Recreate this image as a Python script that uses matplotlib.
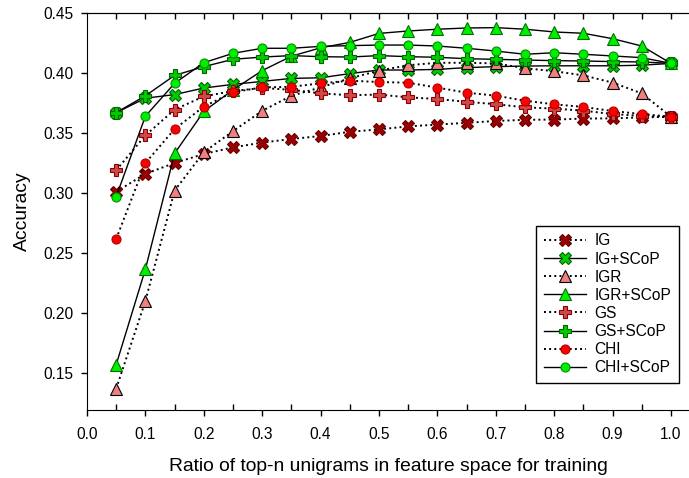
import matplotlib
matplotlib.use('Agg')
import matplotlib.pyplot as plt
import numpy as np

plt.rcParams['font.family'] = ['Liberation Sans', 'DejaVu Sans']
plt.rcParams['font.size'] = 11.2

# ratio of top-n unigrams
ratio = [0.05, 0.10, 0.15, 0.20, 0.25, 0.30, 0.35, 0.40, 0.45, 0.50,
         0.55, 0.60, 0.65, 0.70, 0.75, 0.80, 0.85, 0.90, 0.95, 1.00]

ig = [0.301, 0.316, 0.325, 0.3325, 0.338, 0.342, 0.345, 0.3475, 0.351, 0.353,
      0.3555, 0.357, 0.3585, 0.360, 0.361, 0.3612, 0.362, 0.3622, 0.363, 0.3635]
ig_scop = [0.367, 0.379, 0.382, 0.3875, 0.3905, 0.393, 0.3955, 0.396, 0.3995, 0.4025,
           0.4025, 0.403, 0.4045, 0.4053, 0.4058, 0.406, 0.406, 0.406, 0.4065, 0.408]
igr = [0.137, 0.210, 0.302, 0.334, 0.3515, 0.3685, 0.381, 0.388, 0.3955, 0.402,
       0.4065, 0.4085, 0.4085, 0.408, 0.404, 0.4015, 0.398, 0.392, 0.383, 0.3635]
igr_scop = [0.157, 0.2365, 0.333, 0.368, 0.386, 0.402, 0.414, 0.421, 0.4255, 0.433,
            0.435, 0.4365, 0.4375, 0.4378, 0.4365, 0.4342, 0.4331, 0.4286, 0.4225, 0.408]
gs = [0.319, 0.348, 0.3695, 0.3805, 0.385, 0.3875, 0.386, 0.383, 0.3815, 0.382,
      0.3797, 0.3783, 0.376, 0.374, 0.3714, 0.3703, 0.3686, 0.3658, 0.3642, 0.3635]
gs_scop = [0.367, 0.381, 0.398, 0.4053, 0.4114, 0.4133, 0.4145, 0.4136, 0.4133, 0.4145,
           0.4136, 0.4131, 0.4119, 0.4114, 0.4108, 0.4103, 0.410, 0.4095, 0.4092, 0.408]
chi = [0.2617, 0.325, 0.3533, 0.372, 0.384, 0.388, 0.3885, 0.3914, 0.3936, 0.3925,
       0.3919, 0.3878, 0.3836, 0.3811, 0.3769, 0.3739, 0.3717, 0.3683, 0.3658, 0.3635]
chi_scop = [0.297, 0.364, 0.3914, 0.4086, 0.4164, 0.4206, 0.4206, 0.4222, 0.4228, 0.4233,
            0.4233, 0.4225, 0.4206, 0.4183, 0.4156, 0.4169, 0.4156, 0.4142, 0.4128, 0.408]

labels = ['IG', 'IG+SCoP', 'IGR', 'IGR+SCoP', 'GS', 'GS+SCoP', 'CHI', 'CHI+SCoP']
series = [ig, ig_scop, igr, igr_scop, gs, gs_scop, chi, chi_scop]

# marker, face, edge, size
styles = [('X', '#9a0000', '#6a0000', 8),
          ('X', '#00cc00', '#006400', 9),
          ('^', '#f08080', 'black', 8),
          ('^', '#00ee00', '#007000', 9),
          ('P', '#d04848', '#8b0000', 9),
          ('P', '#00cc00', '#006400', 9),
          ('o', '#ff0000', '#b00000', 6.5),
          ('o', '#00ee00', '#009000', 6.5)]

fig = plt.figure(figsize=(6.89, 4.78), dpi=100)
ax = fig.add_axes([87/689, 1-410/478, 1-87/689, 397/478])

for i, (ys, label) in enumerate(zip(series, labels)):
    m, fc, ec, ms = styles[i]
    ls = '-' if 'SCoP' in label else ':'
    lw = 1.0 if ls == '-' else 1.4
    ax.plot(ratio, ys, ls=ls, color='black', lw=lw, marker=m, ms=ms,
            mfc=fc, mec=ec, mew=0.8, label=label)

ax.set_xlim(0, (689-87)/584)
ax.set_ylim(0.45 - 397/1200, 0.45)
ax.set_xticks(np.arange(0, 1.01, 0.1))
ax.set_xticks(np.arange(0.05, 1.0, 0.1), minor=True)
ax.set_xticklabels(['%.1f' % v for v in np.arange(0, 1.01, 0.1)])
ax.set_yticks(np.arange(0.15, 0.451, 0.05))
ax.set_yticklabels(['%.2f' % v for v in np.arange(0.15, 0.451, 0.05)])
ax.tick_params(axis='x', which='major', direction='out', length=4, width=1, pad=8)
ax.tick_params(axis='x', which='minor', direction='in', length=4, width=1)
ax.tick_params(axis='y', direction='out', length=4, width=1, pad=6)
ax.spines['right'].set_visible(False)

top = ax.secondary_xaxis('top')
top.set_xticks(np.arange(0.05, 1.01, 0.05))
top.tick_params(direction='in', length=4, width=1, labeltop=False)

ax.set_xlabel('Ratio of top-n unigrams in feature space for training', fontsize=13.9, labelpad=12)
ax.set_ylabel('Accuracy', fontsize=13.9, labelpad=9)

leg = ax.legend(loc='lower right', bbox_to_anchor=((679-87)/602, (410-383)/397),
                borderaxespad=0, fancybox=False, edgecolor='black', framealpha=1,
                handlelength=2.7, labelspacing=0.2, handletextpad=0.55, borderpad=0.5)
leg.get_frame().set_linewidth(1.0)

plt.savefig('out.png', dpi=100)
